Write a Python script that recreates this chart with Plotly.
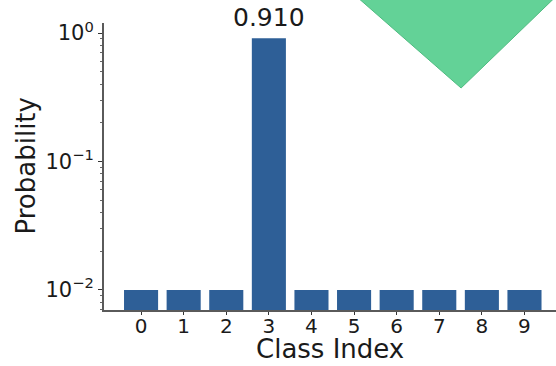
import math
import plotly.graph_objects as go

classes = [0, 1, 2, 3, 4, 5, 6, 7, 8, 9]
probs = [0.01, 0.01, 0.01, 0.910, 0.01, 0.01, 0.01, 0.01, 0.01, 0.01]
peak_label = "0.910"
ytick_vals = [1, 0.1, 0.01]
ytick_text = ["10<sup>0</sup>", "10<sup>−1</sup>", "10<sup>−2</sup>"]
yminor_vals = [m * 10 ** e for e in (-3, -2, -1) for m in range(2, 10)]
x_title = "Class Index"
y_title = "Probability"

FONT = "DejaVu Sans"
BAR = "#2e5f97"
AXIS = "#5a5a5a"
TXT = "#1a1a1a"

fig = go.Figure()
fig.add_trace(go.Bar(x=classes, y=probs, width=0.8, marker=dict(color=BAR, line=dict(width=0)),
                     showlegend=False))

peak_i = probs.index(max(probs))
fig.add_annotation(x=classes[peak_i], y=math.log10(probs[peak_i]), text=peak_label,
                   showarrow=False, yanchor="bottom", yshift=4,
                   font=dict(family=FONT, size=25, color=TXT))

# axis titles
fig.add_annotation(xref="paper", yref="paper", x=0.5, y=0, yshift=-39, yanchor="middle",
                   text=x_title, showarrow=False, font=dict(family=FONT, size=26, color=TXT))
fig.add_annotation(xref="paper", yref="paper", x=0, y=0.5, xshift=-79, xanchor="center",
                   yanchor="middle", textangle=-90,
                   text=y_title, showarrow=False, font=dict(family=FONT, size=26, color=TXT))

# decorative green triangle (paper coordinates)
fig.add_shape(type="path", xref="paper", yref="paper",
              path="M 0.553 1.10 L 1.005 1.10 L 0.790 0.7735 Z",
              fillcolor="#63d297", line=dict(color="#4fbb80", width=1), layer="above")

fig.update_layout(
    width=556, height=366,
    margin=dict(l=104, r=0, t=23, b=56),
    plot_bgcolor="white", paper_bgcolor="white",
    font=dict(family=FONT, color=TXT),
    bargap=0.2,
)
fig.update_xaxes(
    range=[-0.87, 9.74], tickmode="array", tickvals=classes, ticktext=[str(c) for c in classes],
    showline=True, linecolor=AXIS, linewidth=2, showgrid=False, zeroline=False,
    ticks="outside", ticklen=3, tickcolor="#333", tickwidth=1,
    tickfont=dict(family=FONT, size=20, color=TXT), ticklabelstandoff=-6,
    automargin=False,
)
fig.update_yaxes(
    type="log", range=[-2.156, 0.078],
    tickmode="array", tickvals=ytick_vals, ticktext=ytick_text,
    showline=True, linecolor=AXIS, linewidth=2, showgrid=False, zeroline=False,
    ticks="outside", ticklen=4, tickcolor="#333", tickwidth=1,
    tickfont=dict(family=FONT, size=21, color=TXT),
    minor=dict(tickmode="array", tickvals=yminor_vals, ticks="outside", ticklen=2,
               tickcolor="#666", showgrid=False),
    automargin=False,
)

fig.write_html("out.html")
